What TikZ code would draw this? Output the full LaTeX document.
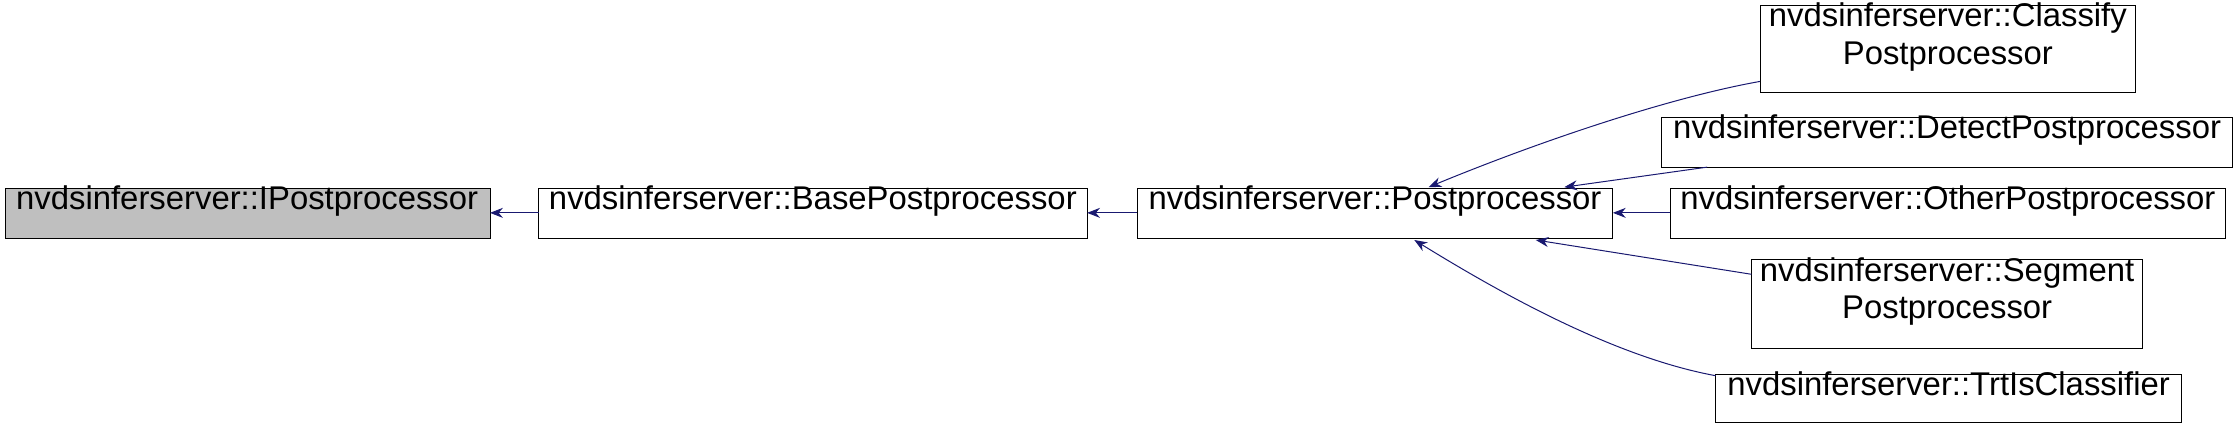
\documentclass[tikz,border=0pt]{standalone}
\usepackage{fontspec}
\setmainfont{Liberation Sans}
\usetikzlibrary{arrows.meta}
\begin{document}
\begin{tikzpicture}[x=1pt,y=-1pt,
  box/.style={draw=black,line width=0.7pt,fill=white},
  lbl/.style={anchor=north,inner sep=0pt,align=center,font=\fontsize{23}{26}\selectfont},
  edge/.style={draw={rgb,255:red,25;green,25;blue,112},line width=0.7pt,{Stealth[length=9pt,width=7pt]}-}]
\useasboundingbox (0,0) rectangle (1568,299);
\newcommand\mkbox[6]{%
  \path[box] (#2,#3) rectangle (#4,#5);
  \coordinate (#1) at ({(#2+#4)/2},{(#3+#5)/2});
  \node[lbl] (#1t) at ({(#2+#4)/2},{#3-2}) {#6};}
\path[box,fill={rgb,255:red,191;green,191;blue,191}] (4,132) rectangle (343,167);
\node[lbl] (ip) at (173,130) {nvdsinferserver::IPostprocessor};
\mkbox{bp}{377}{132}{761}{167}{nvdsinferserver::BasePostprocessor}
\mkbox{pp}{796}{132}{1129}{167}{nvdsinferserver::Postprocessor}
\mkbox{cl}{1232}{4}{1495}{65}{nvdsinferserver::Classify\\Postprocessor}
\mkbox{de}{1163}{82}{1563}{117}{nvdsinferserver::DetectPostprocessor}
\mkbox{ot}{1169}{132}{1558}{167}{nvdsinferserver::OtherPostprocessor}
\mkbox{se}{1226}{182}{1500}{244}{nvdsinferserver::Segment\\Postprocessor}
\mkbox{tr}{1201}{262}{1527}{296}{nvdsinferserver::TrtIsClassifier}
\coordinate (ipE) at (343,149);
\coordinate (bpW) at (377,149);
\coordinate (bpE) at (761,149);
\coordinate (ppW) at (796,149);
\coordinate (ppE) at (1129,149);
\coordinate (otW) at (1169,149);
\draw[edge] (ipE) -- (bpW);
\draw[edge] (bpE) -- (ppW);
\draw[edge] (ppE) -- (otW);
\coordinate (a1) at (1000,131); \coordinate (c1) at (1232,57);
\draw[edge] (a1) .. controls (1080,98) and (1170,68) .. (c1);
\coordinate (a2) at (1095,131); \coordinate (c2) at (1195,117);
\draw[edge] (a2) -- (c2);
\coordinate (a3) at (1075,168); \coordinate (c3) at (1226,192);
\draw[edge] (a3) -- (c3);
\coordinate (a4) at (990,168); \coordinate (c4) at (1201,263);
\draw[edge] (a4) .. controls (1050,205) and (1130,250) .. (c4);
\end{tikzpicture}
\end{document}
